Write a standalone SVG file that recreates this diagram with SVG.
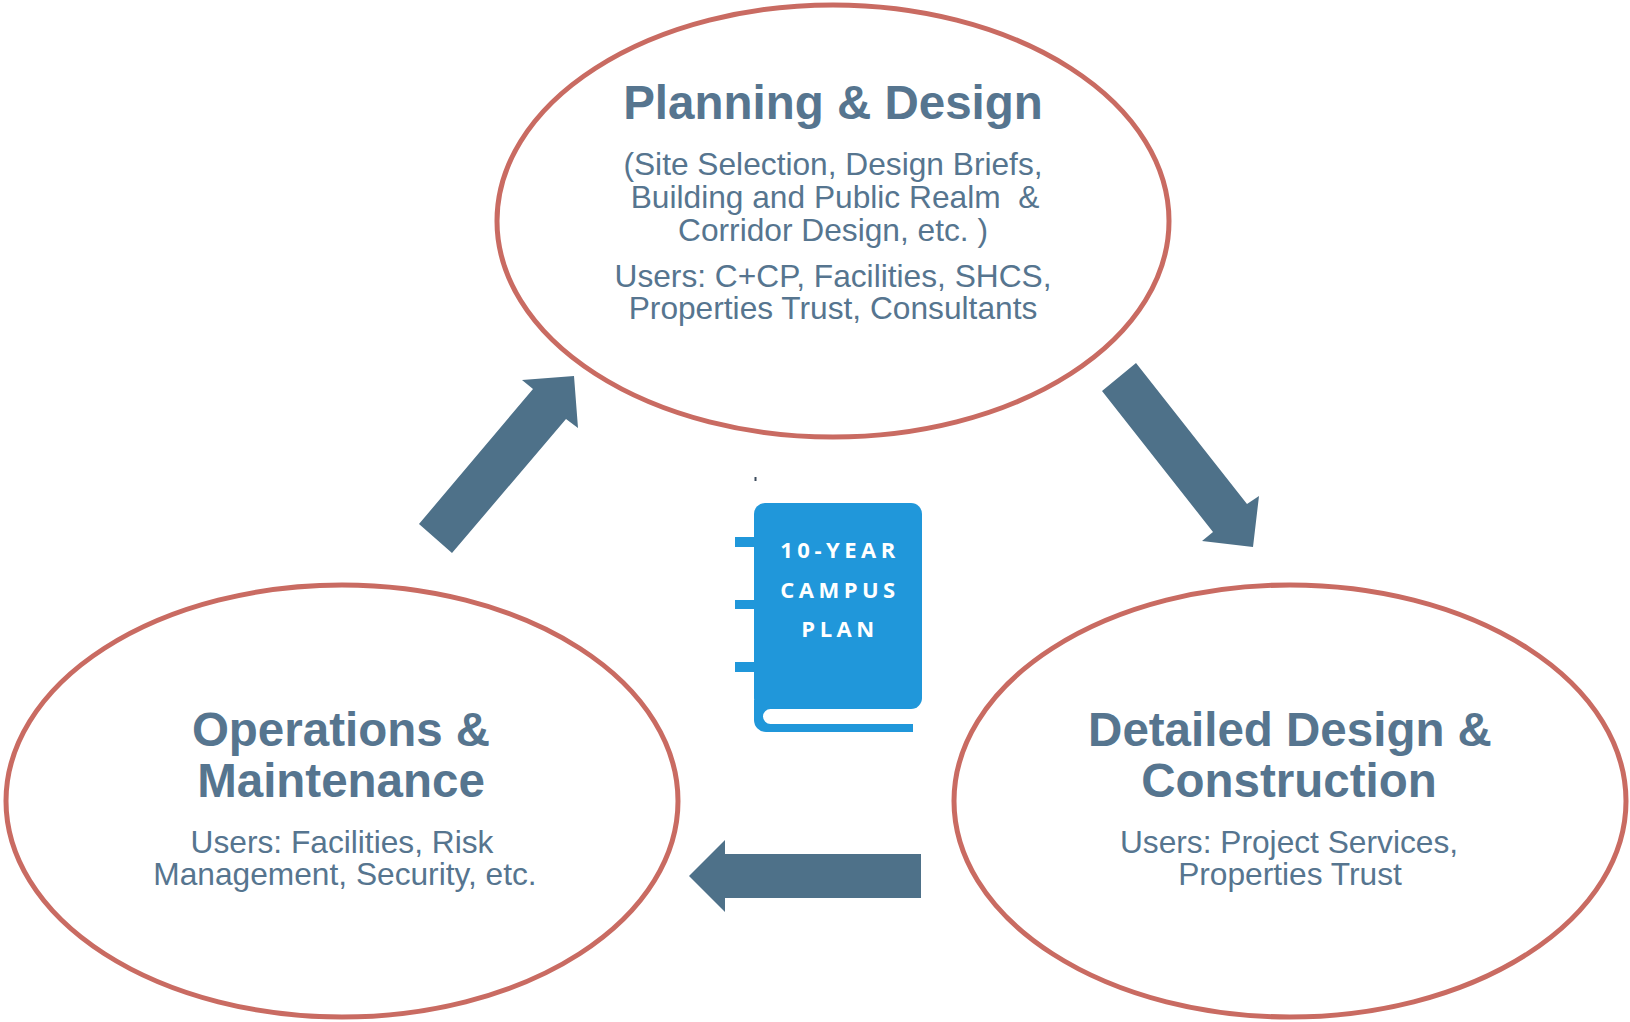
<svg xmlns="http://www.w3.org/2000/svg" width="1630" height="1022" viewBox="0 0 1630 1022">
<style>
.ell{fill:#ffffff;stroke:#c96b62;stroke-width:5}
.ttl{font-family:"Liberation Sans",Arial,sans-serif;font-weight:700;font-size:47.5px;fill:#56758f;text-anchor:middle}
.sub{font-family:"Liberation Sans",Arial,sans-serif;font-size:31.7px;fill:#56758f;text-anchor:middle}
.arr{fill:#4e7189}
.bk{fill:#2097da}
.bkt{font-family:"Open Sans","DejaVu Sans",sans-serif;font-weight:700;font-size:22px;fill:#ffffff;text-anchor:middle;letter-spacing:4.5px}
</style>
<rect width="1630" height="1022" fill="#ffffff"/>
<g id="planning-design">
<ellipse class="ell" cx="833" cy="221" rx="336" ry="216"/>
<text class="ttl" x="833" y="119">Planning &amp; Design</text>
<text class="sub" x="833" y="175">(Site Selection, Design Briefs,</text>
<text class="sub" x="835" y="208" xml:space="preserve">Building and Public Realm  &amp;</text>
<text class="sub" x="833" y="241">Corridor Design, etc. )</text>
<text class="sub" x="833" y="287">Users: C+CP, Facilities, SHCS,</text>
<text class="sub" x="833" y="319">Properties Trust, Consultants</text>
</g>
<g id="operations-maintenance">
<ellipse class="ell" cx="342" cy="801" rx="336" ry="216"/>
<text class="ttl" x="341" y="746">Operations &amp;</text>
<text class="ttl" x="341" y="797">Maintenance</text>
<text class="sub" x="342" y="853">Users: Facilities, Risk</text>
<text class="sub" x="345" y="885">Management, Security, etc.</text>
</g>
<g id="detailed-design-construction">
<ellipse class="ell" cx="1290" cy="801" rx="336" ry="216"/>
<text class="ttl" x="1290" y="746">Detailed Design &amp;</text>
<text class="ttl" x="1289" y="797">Construction</text>
<text class="sub" x="1289" y="853">Users: Project Services,</text>
<text class="sub" x="1290" y="885">Properties Trust</text>
</g>
<g id="campus-plan-book">
<rect x="754.5" y="477" width="2" height="4" fill="#3c4b5c"/>
<rect class="bk" x="735" y="537" width="22" height="10"/>
<rect class="bk" x="735" y="600" width="22" height="9"/>
<rect class="bk" x="735" y="662" width="22" height="10"/>
<rect class="bk" x="754" y="503" width="168" height="206" rx="11"/>
<path class="bk" d="M754,700 H780 V709 H770.5 A7.5,7.5 0 0 0 770.5,724 H913 V732 H766 A12,12 0 0 1 754,720 Z"/>
<text class="bkt" x="840" y="558">10-YEAR</text>
<text class="bkt" x="840" y="598">CAMPUS</text>
<text class="bkt" x="840" y="637">PLAN</text>
</g>
<g id="connectors">
<polygon class="arr" points="419,524 533,389 522,380 574,376 578,428 566,419 452,553"/>
<polygon class="arr" points="1102,391 1136,363 1247,504 1259,496 1253,547 1202,541 1213,532"/>
<polygon class="arr" points="689,876 725,840 725,854 921,854 921,898 725,898 725,912"/>
</g>
</svg>
